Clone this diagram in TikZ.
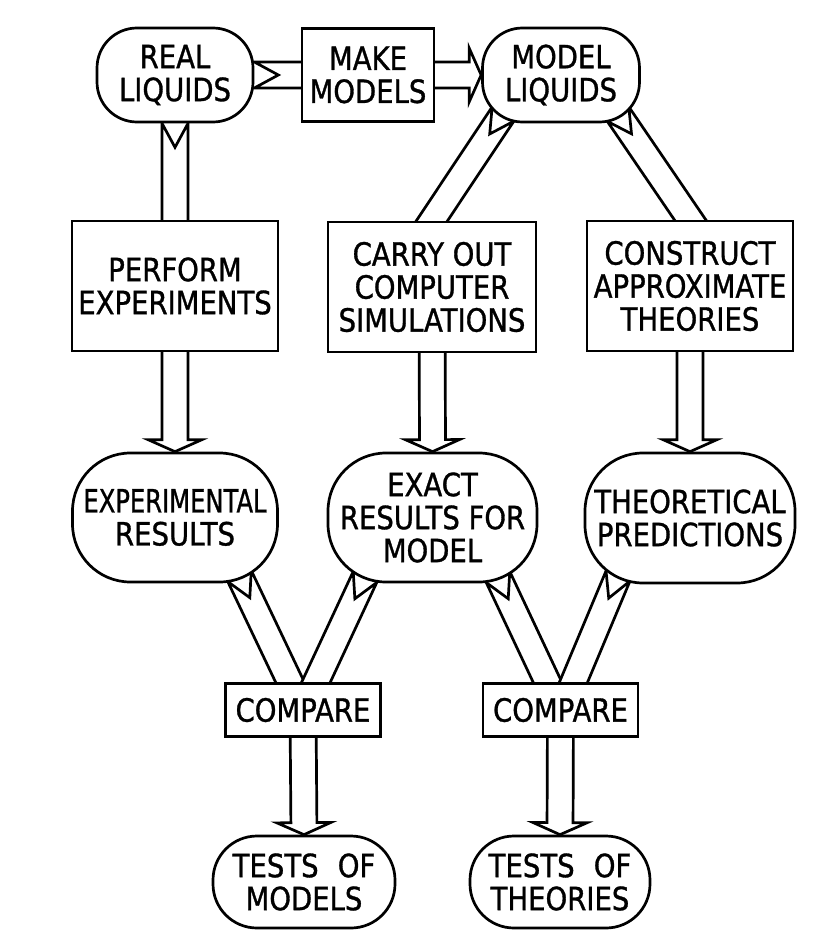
\documentclass[tikz,border=0pt]{standalone}
\usepackage{fontspec}
\usepackage{graphicx}
\newfontfamily\dfont[FakeStretch=0.86,FakeBold=1]{DejaVu Sans}
\usetikzlibrary{calc}
\pgfdeclarelayer{bg}
\pgfsetlayers{bg,main}
\tikzset{
  every node/.style={font={\dfont\fontsize{32pt}{33pt}\selectfont}, align=center, inner sep=0pt},
  ln/.style={line width=2.7pt, line join=miter, miter limit=6},
  boxnode/.style={ln, draw, fill=white, rectangle},
  ovalnode/.style={ln, draw, fill=white, rectangle, rounded corners=#1},
  ovalnode/.default=40pt,
  band/.style={ln, draw, fill=white},
}
% full hollow arrow: #1 tail, #2 head, #3 notch depth
\newcommand\fullarrow[3]{%
  \coordinate (fa-hb) at ($(#2)!12pt!(#1)$);
  \draw[band] ($(#1)!13pt!90:(#2)$) -- ($(fa-hb)!13pt!90:(#2)$) -- ($(fa-hb)!27pt!90:(#2)$) -- (#2)
    -- ($(fa-hb)!27pt!-90:(#2)$) -- ($(fa-hb)!13pt!-90:(#2)$) -- ($(#1)!13pt!-90:(#2)$) -- ($(#1)!#3!(#2)$) -- cycle;
}
% arm without head, running into a box: #1 tail, #2 end, #3 notch depth
\newcommand\armarrow[3]{%
  \coordinate (aa-e) at ($(#2)!-12pt!(#1)$);
  \draw[band] ($(#1)!13pt!90:(aa-e)$) -- ($(aa-e)!13pt!-90:(#1)$) -- ($(aa-e)!13pt!90:(#1)$)
    -- ($(#1)!13pt!-90:(aa-e)$) -- ($(#1)!#3!(aa-e)$) -- cycle;
}
\begin{document}
\begin{tikzpicture}[x=1pt,y=-1pt]
\useasboundingbox (0,0) rectangle (838,950);
% row 1
\node[ovalnode=40pt, minimum width=156pt, minimum height=94pt] (real) at (175,75) {REAL\\LIQUIDS};
\node[boxnode, minimum width=132pt, minimum height=93pt] (make) at (368,75) {MAKE\\MODELS};
\node[ovalnode=40pt, minimum width=157pt, minimum height=94pt] (model) at (561,75) {MODEL\\LIQUIDS};
% row 2
\node[boxnode, minimum width=206pt, minimum height=130pt] (perform) at (175,286) {PERFORM\\EXPERIMENTS};
\node[boxnode, minimum width=208pt, minimum height=130pt] (carry) at (432,287) {CARRY OUT\\COMPUTER\\SIMULATIONS};
\node[boxnode, minimum width=206pt, minimum height=130pt] (construct) at (690,286) {CONSTRUCT\\APPROXIMATE\\THEORIES};
% row 3
\node[ovalnode=58pt, minimum width=205pt, minimum height=129pt] (exp) at (175,517.5) {\scalebox{0.88}[1]{EXPERIMENTAL}\\RESULTS};
\node[ovalnode=58pt, minimum width=209pt, minimum height=129pt] (exact) at (432.5,517.5) {EXACT\\RESULTS FOR\\MODEL};
\node[ovalnode=58pt, minimum width=210pt, minimum height=130pt] (theo) at (690,518) {THEORETICAL\\PREDICTIONS};
% row 4
\node[boxnode, minimum width=155pt, minimum height=53pt] (cmp1) at (303,710) {COMPARE};
\node[boxnode, minimum width=155pt, minimum height=53pt] (cmp2) at (560.5,710) {COMPARE};
% row 5
\node[ovalnode=44pt, minimum width=182pt, minimum height=92pt] (tests1) at (304,882) {TESTS\hspace{0.6em}OF\\MODELS};
\node[ovalnode=44pt, minimum width=180pt, minimum height=92pt] (tests2) at (560,882) {TESTS\hspace{0.6em}OF\\THEORIES};

\begin{pgfonlayer}{bg}
\fullarrow{real.east}{model.west}{24pt}
\fullarrow{real.south}{exp.north}{24pt}
\coordinate (mL) at ($(model.center)+(-58,39)$);
\coordinate (mR) at ($(model.center)+(57,39)$);
\armarrow{mL}{carry.north}{24pt}
\armarrow{mR}{construct.north}{24pt}
\fullarrow{carry.center}{exact.north}{0pt}
\fullarrow{construct.center}{theo.north}{0pt}
\coordinate (eBR) at ($(exp.center)+(64.5,58.5)$);
\coordinate (xBL) at ($(exact.center)+(-67.5,59.5)$);
\coordinate (xBR) at ($(exact.center)+(65.5,59.5)$);
\coordinate (tBL) at ($(theo.center)+(-72,58)$);
\coordinate (c1L) at ($(cmp1.north)+(-13,0)$);
\coordinate (c1R) at ($(cmp1.north)+(13,0)$);
\coordinate (c2L) at ($(cmp2.north)+(-13,0)$);
\coordinate (c2R) at ($(cmp2.north)+(13,0)$);
\armarrow{eBR}{c1L}{24pt}
\armarrow{xBL}{c1R}{24pt}
\armarrow{xBR}{c2L}{24pt}
\armarrow{tBL}{c2R}{24pt}
\fullarrow{cmp1.center}{tests1.north}{0pt}
\fullarrow{cmp2.center}{tests2.north}{0pt}
\end{pgfonlayer}
\end{tikzpicture}
\end{document}
